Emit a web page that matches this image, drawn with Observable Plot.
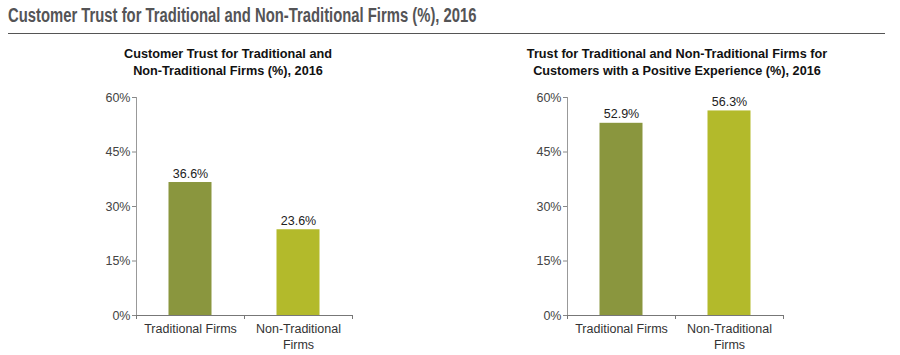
<!DOCTYPE html>
<html>
<head>
<meta charset="utf-8">
<script src="https://cdn.jsdelivr.net/npm/d3@7"></script>
<script src="https://cdn.jsdelivr.net/npm/@observablehq/plot@0.6"></script>
<style>
  html, body { margin: 0; padding: 0; background: #fff; }
  body { width: 900px; height: 355px; position: relative; overflow: hidden; font-family: "Liberation Sans", Arial, sans-serif; }
  #pageTitle { position: absolute; left: 8px; top: 4px; font-family: "Liberation Sans", Arial, sans-serif; font-weight: bold; font-size: 19.5px; color: #545456; white-space: nowrap; transform-origin: 0 0; transform: scaleX(0.76); }
  #rule { position: absolute; left: 8px; top: 33px; width: 877px; height: 1px; background: #555; }
  .ctitle { position: absolute; top: 46px; transform: translateX(-50%); text-align: center; font-weight: bold; font-size: 12.7px; line-height: 16.5px; color: #111; white-space: nowrap; }
  .chart { position: absolute; top: 85px; }
</style>
</head>
<body>
<div id="pageTitle"></div>
<div id="rule"></div>
<div id="t1" class="ctitle" style="left:228px"></div>
<div id="t2" class="ctitle" style="left:677px"></div>
<div id="c1" class="chart" style="left:0px"></div>
<div id="c2" class="chart" style="left:450px"></div>
<script>
const pageTitle = "Customer Trust for Traditional and Non-Traditional Firms (%), 2016";
const chartTitles = [
  "Customer Trust for Traditional and\nNon-Traditional Firms (%), 2016",
  "Trust for Traditional and Non-Traditional Firms for\nCustomers with a Positive Experience (%), 2016"
];
const categories = ["Traditional Firms", "Non-Traditional\nFirms"];
const trustAll = [36.6, 23.6];
const trustPositive = [52.9, 56.3];
const yTicks = [0, 15, 30, 45, 60];
const barColors = ["#8a963e", "#b3ba2b"];

document.getElementById("pageTitle").textContent = pageTitle;
document.getElementById("t1").innerText = chartTitles[0];
document.getElementById("t2").innerText = chartTitles[1];

function makeChart(values, marginLeft, marginRight) {
  const rows = categories.map((c, i) => ({i, category: c, value: values[i], color: barColors[i]}));
  const n = categories.length;
  return Plot.plot({
    width: 450,
    height: 270,
    marginTop: 12,
    marginBottom: 40,
    marginLeft,
    marginRight,
    style: {fontFamily: "Liberation Sans, Arial, sans-serif", fontSize: "12.5px", background: "transparent", color: "#333"},
    x: {type: "linear", domain: [0, n], axis: null},
    y: {domain: [0, 60], axis: null},
    marks: [
      Plot.rectY(rows, {x1: d => d.i, x2: d => d.i + 1, y: "value", fill: "color", insetLeft: 32.5, insetRight: 32.5}),
      Plot.text(rows, {x: d => d.i + 0.5, y: "value", text: d => d.value.toFixed(1) + "%", lineAnchor: "bottom", dy: -5, fill: "#222", fontSize: 12.5}),
      Plot.ruleX([0], {stroke: "#999"}),
      Plot.ruleY([0], {stroke: "#777"}),
      Plot.axisY({ticks: yTicks, tickFormat: d => d + "%", tickSize: 4, tickPadding: 2, stroke: "#888", fill: "#444", fontSize: 12.5, label: null}),
      Plot.axisX({ticks: d3.range(n + 1), tickFormat: () => "", tickSize: 4, stroke: "#777", label: null}),
      Plot.axisX({ticks: d3.range(n).map(i => i + 0.5), tickFormat: t => categories[Math.floor(t)], tickSize: 0, tickPadding: 6, lineHeight: 1.28, fill: "#333", fontSize: 12.5, label: null})
    ]
  });
}

document.getElementById("c1").append(makeChart(trustAll, 136, 98));
document.getElementById("c2").append(makeChart(trustPositive, 117, 117));
</script>
</body>
</html>
